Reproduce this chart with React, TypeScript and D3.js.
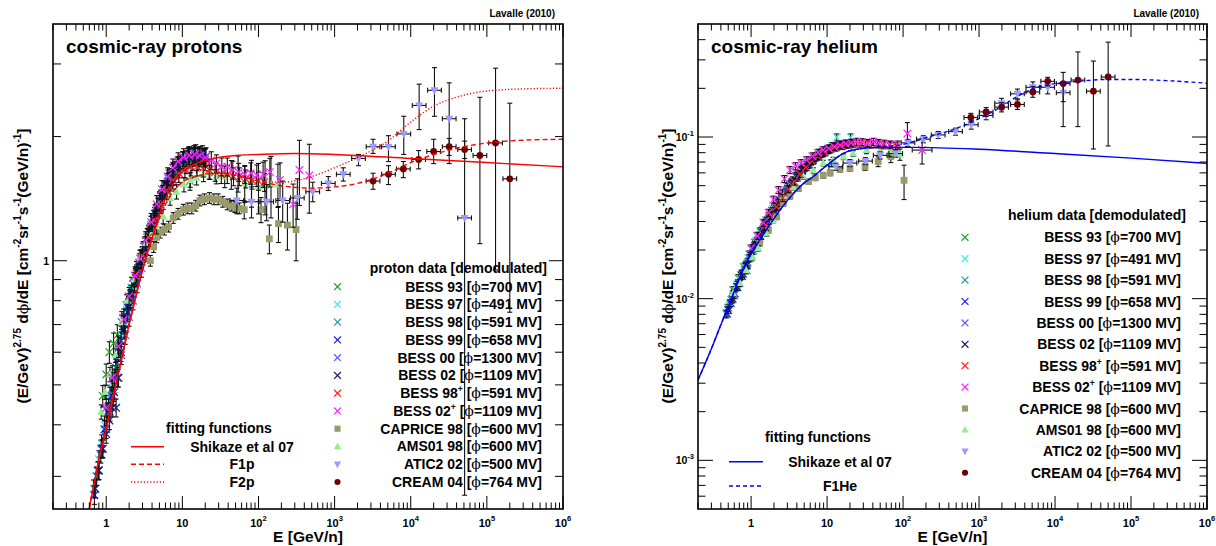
import React from 'react';
import * as d3 from 'd3';

const FONT = "'Liberation Sans', Arial, Helvetica, sans-serif";
const PHI_FONT = "'DejaVu Serif', 'DejaVu Sans', serif";

// ---------------- PROTON fitting functions ----------------
const P_SHIKAZE_E = [0.55, 0.6, 0.7, 0.8, 0.9, 1, 1.2, 1.5, 2, 2.5, 3, 4, 5, 7, 10, 15, 20, 30, 50, 100, 300, 1000, 1e4, 1e5, 1e6];
const P_SHIKAZE_V = [0.22, 0.25, 0.29, 0.33, 0.36, 0.39, 0.46, 0.55, 0.70, 0.83, 0.95, 1.13, 1.30, 1.50, 1.64, 1.72, 1.75, 1.78, 1.80, 1.81, 1.82, 1.81, 1.77, 1.73, 1.69];
const P_F1_E = [0.55, 0.6, 0.7, 0.8, 1, 1.5, 2, 3, 5, 7, 10, 15, 20, 30, 50, 100, 200, 500, 1000, 2000, 5000, 1e4, 2e4, 5e4, 1e5, 3e5, 1e6];
const P_F1_V = [0.22, 0.25, 0.29, 0.33, 0.39, 0.55, 0.70, 0.95, 1.27, 1.44, 1.55, 1.60, 1.62, 1.63, 1.61, 1.56, 1.52, 1.50, 1.51, 1.54, 1.63, 1.73, 1.81, 1.89, 1.93, 1.96, 1.97];
const P_F2_E = [0.55, 0.6, 0.7, 0.8, 1, 1.5, 2, 3, 5, 7, 10, 15, 20, 30, 50, 100, 200, 500, 1000, 2000, 5000, 1e4, 2e4, 5e4, 1e5, 3e5, 1e6];
const P_F2_V = [0.22, 0.25, 0.29, 0.33, 0.39, 0.55, 0.70, 0.95, 1.27, 1.44, 1.55, 1.60, 1.62, 1.63, 1.61, 1.56, 1.55, 1.60, 1.68, 1.78, 1.95, 2.17, 2.37, 2.52, 2.58, 2.61, 2.62];

// ---------------- PROTON data ----------------
const P_B93_E = [0.9, 1.0, 1.1, 1.25, 1.4, 1.6, 1.85, 2.15, 2.5, 3.0, 3.6, 4.3, 5.2, 6.3, 7.6, 9.2, 11.2, 13.6, 16.5, 20];
const P_B93_V = [0.47, 0.53, 0.60, 0.63, 0.66, 0.71, 0.78, 0.86, 0.94, 1.04, 1.15, 1.27, 1.40, 1.52, 1.62, 1.69, 1.73, 1.76, 1.77, 1.76];
const P_B97_E = [0.68, 0.74, 0.8, 0.87, 0.95, 1.03, 1.12, 1.22, 1.33, 1.45, 1.58, 1.72, 1.88, 2.05, 2.23, 2.43, 2.65, 2.9, 3.2, 3.5, 3.9, 4.4, 5.0, 5.7, 6.5, 7.5, 8.7, 10.1, 11.8, 13.8, 16.2, 19];
const P_B97_V = [0.28, 0.30, 0.33, 0.36, 0.40, 0.43, 0.47, 0.51, 0.55, 0.60, 0.66, 0.71, 0.76, 0.81, 0.86, 0.91, 0.96, 1.01, 1.08, 1.14, 1.22, 1.30, 1.40, 1.49, 1.58, 1.65, 1.70, 1.75, 1.78, 1.79, 1.79, 1.78];
const P_B98_E = [0.75, 0.85, 0.95, 1.07, 1.2, 1.35, 1.52, 1.7, 1.92, 2.15, 2.42, 2.72, 3.06, 3.45, 3.9, 4.4, 5.0, 5.8, 6.8, 8.0, 9.5, 11.3, 12.6, 13.5, 16, 19.5];
const P_B98_V = [0.30, 0.34, 0.39, 0.44, 0.49, 0.55, 0.62, 0.70, 0.77, 0.85, 0.92, 0.99, 1.06, 1.14, 1.22, 1.30, 1.39, 1.49, 1.59, 1.66, 1.72, 1.76, 1.56, 1.78, 1.78, 1.77];
const P_B99_E = [0.7, 0.78, 0.86, 0.95, 1.05, 1.16, 1.28, 1.42, 1.57, 1.74, 1.93, 2.14, 2.37, 2.63, 2.92, 3.25, 3.62, 4.05, 4.55, 5.1, 5.8, 6.6, 7.6, 8.8, 10.2, 12, 14.2, 17, 20.5];
const P_B99_V = [0.27, 0.31, 0.35, 0.39, 0.43, 0.47, 0.52, 0.58, 0.64, 0.70, 0.77, 0.83, 0.89, 0.95, 1.01, 1.08, 1.15, 1.23, 1.31, 1.39, 1.48, 1.56, 1.64, 1.70, 1.75, 1.79, 1.81, 1.80, 1.79];
const P_B00_E = [0.8, 0.9, 1.0, 1.12, 1.25, 1.4, 1.58, 1.78, 2.0, 2.25, 2.55, 2.9, 3.3, 3.8, 4.4, 5.1, 6.0, 7.1, 8.5, 10.2, 12.3, 15, 18.5];
const P_B00_V = [0.31, 0.35, 0.39, 0.43, 0.47, 0.52, 0.59, 0.66, 0.73, 0.80, 0.88, 0.96, 1.05, 1.15, 1.26, 1.37, 1.49, 1.59, 1.68, 1.75, 1.80, 1.82, 1.81];
const P_B02_E = [0.72, 0.8, 0.9, 1.0, 1.1, 1.2, 1.27, 1.35, 1.45, 1.56, 1.72, 1.9, 2.1, 2.35, 2.6, 2.9, 3.3, 3.7, 4.2, 4.8, 5.5, 6.4, 7.5, 8.8, 10.4, 12.4, 14.8, 18];
const P_B02_V = [0.28, 0.31, 0.35, 0.38, 0.41, 0.44, 0.48, 0.44, 0.52, 0.60, 0.68, 0.75, 0.81, 0.88, 0.94, 1.01, 1.09, 1.17, 1.26, 1.35, 1.45, 1.55, 1.63, 1.70, 1.75, 1.78, 1.79, 1.78];
const P_B98P_E = [2.5, 3, 3.6, 4.3, 5.2, 6.2, 7.5, 9, 10.8, 13, 15.6, 18.8, 22.5, 27, 32.5, 39, 47, 56, 68, 82, 100, 120];
const P_B98P_V = [0.93, 1.03, 1.14, 1.25, 1.37, 1.48, 1.57, 1.63, 1.67, 1.69, 1.69, 1.68, 1.66, 1.64, 1.62, 1.62, 1.60, 1.60, 1.58, 1.57, 1.56, 1.55];
const P_B02P_E = [1.0, 1.2, 1.45, 1.7, 2.0, 2.4, 2.8, 3.3, 3.9, 4.6, 5.4, 6.4, 7.5, 8.8, 10.4, 12.3, 14.5, 17, 20, 24, 28, 33, 39, 46, 55, 66, 79, 95, 115, 141, 192, 285, 345, 465];
const P_B02P_V = [0.44, 0.52, 0.62, 0.72, 0.82, 0.92, 1.01, 1.12, 1.24, 1.37, 1.49, 1.60, 1.68, 1.74, 1.78, 1.80, 1.81, 1.80, 1.78, 1.75, 1.72, 1.69, 1.69, 1.66, 1.64, 1.62, 1.63, 1.61, 1.62, 1.64, 1.57, 1.37, 1.66, 1.61];
const P_B02P_ERR = [0.07, 0.07, 0.06, 0.06, 0.05, 0.05, 0.05, 0.05, 0.05, 0.05, 0.05, 0.05, 0.05, 0.05, 0.05, 0.05, 0.05, 0.05, 0.05, 0.05, 0.05, 0.05, 0.05, 0.05, 0.05, 0.05, 0.06, 0.06, 0.07, 0.08, 0.10, 0.12, 0.18, 0.19];
const P_CAP_E = [3.8, 4.2, 4.6, 5.1, 5.8, 6.6, 7.6, 8.8, 10.3, 11.8, 13.3, 15, 17, 19.5, 22.7, 26, 29.6, 34, 38.8, 44, 49, 56, 65, 108, 139, 183, 240, 312];
const P_CAP_V = [1.0, 1.08, 1.14, 1.17, 1.19, 1.21, 1.27, 1.30, 1.33, 1.34, 1.34, 1.36, 1.40, 1.41, 1.42, 1.41, 1.41, 1.39, 1.37, 1.36, 1.35, 1.34, 1.33, 1.33, 1.13, 1.23, 1.22, 1.19];
const P_CAP_ERR = [0.03, 0.03, 0.03, 0.03, 0.03, 0.03, 0.03, 0.03, 0.03, 0.03, 0.03, 0.03, 0.03, 0.03, 0.03, 0.03, 0.03, 0.03, 0.03, 0.03, 0.03, 0.03, 0.05, 0.07, 0.08, 0.10, 0.13, 0.16];
const P_AMS_E = [0.86, 0.97, 1.12, 1.32, 1.59, 1.9, 2.3, 2.78, 3.3, 3.9, 4.6, 5.6, 6.9, 8.4, 10.5, 12.7, 15.4, 19, 23, 28, 36, 44, 54, 66, 81, 100, 122, 146, 180];
const P_AMS_V = [0.43, 0.48, 0.53, 0.59, 0.71, 0.80, 0.90, 1.02, 1.10, 1.16, 1.21, 1.28, 1.42, 1.47, 1.53, 1.57, 1.59, 1.62, 1.64, 1.60, 1.60, 1.62, 1.63, 1.54, 1.55, 1.51, 1.52, 1.53, 1.53];
const P_AMS_ERR = [0.04, 0.04, 0.04, 0.04, 0.04, 0.04, 0.04, 0.04, 0.04, 0.04, 0.04, 0.04, 0.04, 0.04, 0.04, 0.04, 0.04, 0.04, 0.04, 0.04, 0.06, 0.08, 0.10, 0.10, 0.13, 0.14, 0.15, 0.17, 0.12];
const P_ATIC_E = [52, 81, 128, 208, 324, 516, 826, 1300, 2060, 3200, 5100, 8100, 12900, 20500, 32000, 51000];
const P_ATIC_V = [1.40, 1.39, 1.39, 1.40, 1.42, 1.47, 1.54, 1.62, 1.77, 1.89, 1.89, 2.03, 2.38, 2.59, 2.21, 1.27];
const P_ATIC_UP = [1.50, 1.51, 1.53, 1.56, 1.58, 1.55, 1.60, 1.68, 1.81, 1.97, 2.01, 2.24, 2.68, 2.94, 2.70, 2.21];
const P_ATIC_DN = [1.30, 1.27, 1.25, 1.24, 1.26, 1.39, 1.48, 1.56, 1.70, 1.82, 1.74, 1.81, 2.08, 2.24, 1.72, 0.27];
const P_CREAM_E = [3200, 5100, 8000, 12700, 20000, 32000, 51000, 81000, 130000, 200000];
const P_CREAM_V = [1.56, 1.62, 1.67, 1.76, 1.84, 1.89, 1.86, 1.80, 1.93, 1.58];
const P_CREAM_UP = [1.63, 1.70, 1.74, 1.85, 1.97, 1.98, 1.95, 2.49, 2.93, 2.41];
const P_CREAM_DN = [1.49, 1.53, 1.59, 1.67, 1.72, 1.80, 1.77, 1.10, 0.95, 0.75];

// ---------------- HELIUM fitting functions ----------------
const H_SHIKAZE_E = [0.2, 0.3, 0.4, 0.5, 0.7, 0.875, 1, 1.3, 1.7, 2.4, 3.5, 5, 6.6, 10, 18, 30, 50, 137, 1000, 1e4, 1e5, 1e6];
const H_SHIKAZE_V = [0.00314, 0.0049, 0.0069, 0.0089, 0.0133, 0.0168, 0.0190, 0.023, 0.028, 0.0353, 0.044, 0.052, 0.057, 0.067, 0.081, 0.085, 0.0863, 0.0863, 0.084, 0.079, 0.074, 0.0687];
const H_F1_E = [0.2, 0.3, 0.4, 0.5, 0.7, 0.875, 1, 1.3, 1.7, 2.4, 3.5, 5, 6.6, 10, 18, 30, 50, 100, 200, 500, 1000, 2000, 3000, 5000, 1e4, 2e4, 5e4, 1e5, 3e5, 1e6];
const H_F1_V = [0.00314, 0.0049, 0.0069, 0.0089, 0.0133, 0.0168, 0.0190, 0.023, 0.028, 0.0353, 0.044, 0.052, 0.057, 0.067, 0.081, 0.085, 0.087, 0.090, 0.099, 0.113, 0.130, 0.155, 0.175, 0.198, 0.214, 0.221, 0.227, 0.227, 0.223, 0.215];

// ---------------- HELIUM data ----------------
const H_B93_E = [0.5, 0.58, 0.68, 0.8, 0.95, 1.12, 1.33, 1.58, 1.88, 2.25, 2.7, 3.25, 3.9, 4.7, 5.7, 6.9, 8.4, 10.2];
const H_B93_V = [0.0088, 0.0113, 0.0134, 0.0157, 0.0188, 0.0222, 0.0262, 0.0305, 0.035, 0.040, 0.045, 0.051, 0.057, 0.063, 0.069, 0.074, 0.079, 0.083];
const H_B97_E = [0.47, 0.52, 0.58, 0.65, 0.73, 0.82, 0.92, 1.04, 1.17, 1.32, 1.5, 1.7, 1.95, 2.25, 2.6, 3.0, 3.5, 4.1, 4.8, 5.7, 6.8, 8.1, 9.7, 11.6, 13.4, 16, 20.4];
const H_B97_V = [0.0080, 0.0092, 0.0106, 0.0122, 0.0140, 0.0158, 0.0178, 0.0202, 0.0228, 0.0256, 0.029, 0.0325, 0.036, 0.040, 0.0445, 0.049, 0.054, 0.059, 0.064, 0.069, 0.074, 0.079, 0.083, 0.088, 0.0995, 0.090, 0.0995];
const H_B98_E = [0.55, 0.65, 0.77, 0.9, 1.06, 1.25, 1.48, 1.75, 2.07, 2.45, 2.9, 3.45, 4.1, 4.9, 5.9, 7.1, 8.6, 10.5, 11.5, 13, 16, 20];
const H_B98_V = [0.0098, 0.0118, 0.0143, 0.0168, 0.0198, 0.0232, 0.0275, 0.032, 0.0365, 0.041, 0.046, 0.052, 0.058, 0.064, 0.070, 0.075, 0.079, 0.083, 0.069, 0.086, 0.088, 0.090];
const H_B99_E = [0.48, 0.54, 0.61, 0.69, 0.78, 0.88, 1.0, 1.13, 1.28, 1.46, 1.67, 1.92, 2.2, 2.55, 2.95, 3.4, 4.0, 4.7, 5.5, 6.5, 7.7, 9.2, 11, 13.2, 16, 19.5];
const H_B99_V = [0.0081, 0.0094, 0.0108, 0.0125, 0.0143, 0.0163, 0.0187, 0.0212, 0.0238, 0.0268, 0.0302, 0.0338, 0.0375, 0.0415, 0.046, 0.051, 0.056, 0.062, 0.067, 0.072, 0.077, 0.081, 0.085, 0.088, 0.090, 0.091];
const H_B00_E = [0.6, 0.7, 0.82, 0.875, 0.96, 1.12, 1.32, 1.55, 1.83, 2.15, 2.55, 3.0, 3.6, 4.3, 5.2, 6.3, 7.6, 9.3, 11.4, 14, 17.5];
const H_B00_V = [0.0105, 0.0125, 0.0150, 0.0150, 0.0178, 0.0208, 0.0245, 0.0285, 0.033, 0.0375, 0.042, 0.047, 0.053, 0.059, 0.065, 0.071, 0.076, 0.081, 0.085, 0.088, 0.090];
const H_B02_E = [0.5, 0.57, 0.66, 0.76, 0.87, 1.0, 1.15, 1.32, 1.52, 1.75, 2.0, 2.3, 2.65, 3.05, 3.5, 4.05, 4.7, 5.5, 6.4, 7.5, 8.8, 10.4, 12.3, 14.6, 17.4, 21];
const H_B02_V = [0.0085, 0.0100, 0.0118, 0.0138, 0.0160, 0.0186, 0.0215, 0.0245, 0.0278, 0.0315, 0.035, 0.039, 0.0432, 0.0478, 0.0525, 0.0575, 0.0625, 0.0675, 0.0722, 0.0765, 0.0805, 0.0842, 0.0872, 0.0895, 0.091, 0.092];
const H_B98P_E = [1.5, 1.8, 2.15, 2.6, 3.1, 3.7, 4.4, 5.3, 6.3, 7.6, 9.1, 10.9, 13, 15.6, 18.7, 22.4, 27, 32, 38.5, 46, 55, 66, 80];
const H_B98P_V = [0.028, 0.0325, 0.037, 0.042, 0.0475, 0.053, 0.059, 0.065, 0.071, 0.076, 0.080, 0.084, 0.087, 0.089, 0.090, 0.091, 0.091, 0.091, 0.090, 0.090, 0.089, 0.089, 0.088];
const H_B02P_E = [1.0, 1.2, 1.45, 1.7, 1.96, 2.3, 2.75, 3.25, 3.85, 4.55, 5.4, 6.4, 7.6, 8.9, 10.5, 12.4, 14.8, 17.5, 20.7, 24.5, 29, 34.5, 40.6, 48, 57, 68, 85, 114, 178];
const H_B02P_V = [0.0205, 0.0245, 0.0295, 0.034, 0.041, 0.047, 0.055, 0.0625, 0.066, 0.069, 0.072, 0.076, 0.080, 0.083, 0.085, 0.087, 0.089, 0.091, 0.092, 0.0935, 0.093, 0.092, 0.0935, 0.092, 0.091, 0.090, 0.090, 0.105, 0.083];
const H_B02P_ERR = [0.05, 0.05, 0.05, 0.05, 0.05, 0.05, 0.05, 0.05, 0.05, 0.05, 0.05, 0.05, 0.05, 0.05, 0.05, 0.05, 0.05, 0.05, 0.05, 0.05, 0.05, 0.05, 0.05, 0.05, 0.05, 0.05, 0.05, 0.17, 0.18];
const H_B02P_XERR = [0, 0, 0, 0, 0, 0, 0, 0, 0, 0, 0, 0, 0, 0, 0, 0, 0, 0, 0, 0, 0, 0, 0, 0, 0, 0, 0, 0, 0.13];
const H_CAP_E = [1.3, 1.69, 2.17, 2.66, 3.25, 4.2, 5.7, 7, 8.9, 11, 14.8, 20, 31.6, 47, 69, 103];
const H_CAP_V = [0.022, 0.0266, 0.0321, 0.039, 0.043, 0.048, 0.053, 0.056, 0.058, 0.060, 0.063, 0.064, 0.0655, 0.0705, 0.0755, 0.054];
const H_CAP_ERR = [0.04, 0.04, 0.04, 0.04, 0.04, 0.04, 0.04, 0.04, 0.04, 0.04, 0.04, 0.04, 0.05, 0.07, 0.08, 0.24];
const H_AMS_E = [0.58, 0.71, 0.86, 1.04, 1.24, 1.6, 1.96, 2.66, 3.6, 4.9, 6.6, 8.9, 12, 16.4, 22, 33, 50, 67, 91];
const H_AMS_V = [0.0108, 0.0125, 0.0150, 0.0180, 0.0205, 0.0253, 0.0307, 0.043, 0.049, 0.057, 0.062, 0.069, 0.072, 0.0755, 0.079, 0.083, 0.083, 0.081, 0.078];
const H_AMS_ERR = [0.04, 0.04, 0.04, 0.04, 0.04, 0.04, 0.04, 0.04, 0.04, 0.04, 0.04, 0.04, 0.04, 0.04, 0.04, 0.05, 0.06, 0.07, 0.08];
const H_ATIC_E = [13, 20, 32, 50, 80, 116, 185, 290, 490, 790, 1240, 1980, 3200, 5100, 8000, 12800];
const H_ATIC_V = [0.0655, 0.069, 0.071, 0.077, 0.079, 0.092, 0.097, 0.103, 0.108, 0.119, 0.136, 0.162, 0.185, 0.203, 0.203, 0.188];
const H_ATIC_ERR = [0.05, 0.05, 0.05, 0.05, 0.05, 0.05, 0.05, 0.05, 0.05, 0.06, 0.06, 0.07, 0.07, 0.08, 0.09, 0.12];
const H_CREAM_E = [780, 1240, 1980, 3200, 5100, 8000, 12800, 20000, 32000, 50000];
const H_CREAM_V = [0.132, 0.143, 0.153, 0.159, 0.19, 0.221, 0.214, 0.225, 0.192, 0.235];
const H_CREAM_UP = [0.140, 0.152, 0.163, 0.170, 0.205, 0.234, 0.251, 0.336, 0.295, 0.386];
const H_CREAM_DN = [0.124, 0.134, 0.143, 0.148, 0.176, 0.207, 0.116, 0.116, 0.0843, 0.088];

// ---------------- legend / labels ----------------
const DATA_LABELS = ['BESS 93', 'BESS 97', 'BESS 98', 'BESS 99', 'BESS 00', 'BESS 02', 'BESS 98', 'BESS 02', 'CAPRICE 98', 'AMS01 98', 'ATIC2 02', 'CREAM 04'];
const DATA_SUPS = ['', '', '', '', '', '', '+', '+', '', '', '', ''];
const DATA_PHI = ['700', '491', '591', '658', '1300', '1109', '591', '1109', '600', '600', '500', '764'];
const DATA_COLORS = ['#22a022', '#33eeee', '#1fa0a0', '#1c1cff', '#5a5aff', '#16166e', '#ff2222', '#ff22ff', '#9a9a6a', '#92ec92', '#9a9aff', '#6e0000'];
const DATA_MARKERS = ['x', 'x', 'x', 'x', 'x', 'x', 'x', 'x', 'sq', 'tu', 'td', 'o'];
const DRAW_ORDER = [0, 1, 2, 3, 4, 5, 8, 9, 6, 7, 10, 11];

const X_LABELS = [
  { v: 1, base: '1', exp: '' }, { v: 10, base: '10', exp: '' }, { v: 100, base: '10', exp: '2' },
  { v: 1e3, base: '10', exp: '3' }, { v: 1e4, base: '10', exp: '4' }, { v: 1e5, base: '10', exp: '5' }, { v: 1e6, base: '10', exp: '6' },
];

type Mk = string;
interface Series { idx: number; E: number[]; V: number[]; err?: number | number[]; up?: number[]; dn?: number[]; xerr?: number | number[]; }
interface Curve { label: string; E: number[]; V: number[]; dash: string; color: string; }

const PROTON_SERIES: Series[] = [
  { idx: 0, E: P_B93_E, V: P_B93_V, err: 0.06 },
  { idx: 1, E: P_B97_E, V: P_B97_V, err: 0.05 },
  { idx: 2, E: P_B98_E, V: P_B98_V, err: 0.05 },
  { idx: 3, E: P_B99_E, V: P_B99_V, err: 0.05 },
  { idx: 4, E: P_B00_E, V: P_B00_V, err: 0.05 },
  { idx: 5, E: P_B02_E, V: P_B02_V, err: 0.05 },
  { idx: 6, E: P_B98P_E, V: P_B98P_V, err: 0.05 },
  { idx: 7, E: P_B02P_E, V: P_B02P_V, err: P_B02P_ERR },
  { idx: 8, E: P_CAP_E, V: P_CAP_V, err: P_CAP_ERR },
  { idx: 9, E: P_AMS_E, V: P_AMS_V, err: P_AMS_ERR },
  { idx: 10, E: P_ATIC_E, V: P_ATIC_V, up: P_ATIC_UP, dn: P_ATIC_DN, xerr: 0.09 },
  { idx: 11, E: P_CREAM_E, V: P_CREAM_V, up: P_CREAM_UP, dn: P_CREAM_DN, xerr: 0.09 },
];
const HELIUM_SERIES: Series[] = [
  { idx: 0, E: H_B93_E, V: H_B93_V, err: 0.05 },
  { idx: 1, E: H_B97_E, V: H_B97_V, err: 0.05 },
  { idx: 2, E: H_B98_E, V: H_B98_V, err: 0.05 },
  { idx: 3, E: H_B99_E, V: H_B99_V, err: 0.05 },
  { idx: 4, E: H_B00_E, V: H_B00_V, err: 0.05 },
  { idx: 5, E: H_B02_E, V: H_B02_V, err: 0.05 },
  { idx: 6, E: H_B98P_E, V: H_B98P_V, err: 0.05 },
  { idx: 7, E: H_B02P_E, V: H_B02P_V, err: H_B02P_ERR, xerr: H_B02P_XERR },
  { idx: 8, E: H_CAP_E, V: H_CAP_V, err: H_CAP_ERR },
  { idx: 9, E: H_AMS_E, V: H_AMS_V, err: H_AMS_ERR },
  { idx: 10, E: H_ATIC_E, V: H_ATIC_V, err: H_ATIC_ERR, xerr: 0.09 },
  { idx: 11, E: H_CREAM_E, V: H_CREAM_V, up: H_CREAM_UP, dn: H_CREAM_DN, xerr: 0.09 },
];
const PROTON_CURVES: Curve[] = [
  { label: 'Shikaze et al 07', E: P_SHIKAZE_E, V: P_SHIKAZE_V, dash: '', color: '#ff0000' },
  { label: 'F1p', E: P_F1_E, V: P_F1_V, dash: '5,3', color: '#ff0000' },
  { label: 'F2p', E: P_F2_E, V: P_F2_V, dash: '1.2,2', color: '#ff0000' },
];
const HELIUM_CURVES: Curve[] = [
  { label: 'Shikaze et al 07', E: H_SHIKAZE_E, V: H_SHIKAZE_V, dash: '', color: '#0000ff' },
  { label: 'F1He', E: H_F1_E, V: H_F1_V, dash: '4,3', color: '#0000ff' },
];

function Marker({ type, x, y, color, s }: { type: Mk; x: number; y: number; color: string; s: number }) {
  if (type === 'x') {
    return (
      <g stroke={color} strokeWidth={1.2}>
        <line x1={x - s} y1={y - s} x2={x + s} y2={y + s} />
        <line x1={x - s} y1={y + s} x2={x + s} y2={y - s} />
      </g>
    );
  }
  if (type === 'sq') return <rect x={x - s} y={y - s} width={2 * s} height={2 * s} fill={color} />;
  if (type === 'tu') return <path d={`M${x},${y - s * 1.1}L${x + s},${y + s * 0.75}L${x - s},${y + s * 0.75}Z`} fill={color} />;
  if (type === 'td') return <path d={`M${x},${y + s * 1.1}L${x + s},${y - s * 0.75}L${x - s},${y - s * 0.75}Z`} fill={color} />;
  return <circle cx={x} cy={y} r={s} fill={color} />;
}

const MARKER_SIZE: Record<string, number> = { x: 3.8, sq: 3.4, tu: 4, td: 4, o: 3.4 };

function pick(a: number | number[] | undefined, i: number, d: number) {
  if (a === undefined) return d;
  return Array.isArray(a) ? a[i] : a;
}

interface PanelCfg {
  id: string; x0: number; x1: number; y0: number; y1: number; yDom: [number, number];
  title: string; header: string; series: Series[]; curves: Curve[];
  yMajor: number[]; yLabels: { v: number; base: string; exp: string }[];
  yMajorLen: number; yMinorLen: number;
  leg: { headerX: number; headerY: number; markerX: number; textX: number; y0: number; dy: number };
  fit: { headerX: number; headerY: number; lx0: number; lx1: number; labelX: number; ys: number[] };
  yTitleX: number;
}

function Panel({ cfg }: { cfg: PanelCfg }) {
  const x = d3.scaleLog().domain([0.2, 1e6]).range([cfg.x0, cfg.x1]);
  const y = d3.scaleLog().domain(cfg.yDom).range([cfg.y1, cfg.y0]);
  const line = d3.line<[number, number]>().x((d) => x(d[0])).y((d) => y(d[1])).curve(d3.curveMonotoneX);

  const xMajor: number[] = [];
  const xMinor: number[] = [];
  for (let e = -1; e <= 6; e++) {
    for (let m = 1; m < 10; m++) {
      const v = m * Math.pow(10, e);
      if (v < 0.2 * 0.999 || v > 1e6 * 1.001) continue;
      if (m === 1) xMajor.push(v); else xMinor.push(v);
    }
  }
  const yAll: number[] = [];
  for (let e = -4; e <= 1; e++) {
    for (let m = 1; m < 10; m++) {
      const v = m * Math.pow(10, e);
      if (v < cfg.yDom[0] * 1.001 || v > cfg.yDom[1] * 0.999) continue;
      yAll.push(v);
    }
  }
  const isMajorY = (v: number) => cfg.yMajor.some((m) => Math.abs(m - v) / m < 1e-6);

  const cap = 2.5;
  const groups: JSX.Element[] = [];
  DRAW_ORDER.forEach((si) => {
    const s = cfg.series.find((q) => q.idx === si);
    if (!s) return;
    const color = DATA_COLORS[s.idx];
    const mk = DATA_MARKERS[s.idx];
    const elems: JSX.Element[] = [];
    s.E.forEach((E, i) => {
      const v = s.V[i];
      const px = x(E);
      const py = y(v);
      let up: number, dn: number;
      if (s.up && s.dn) { up = s.up[i]; dn = s.dn[i]; } else {
        const r = pick(s.err, i, 0.05);
        up = v * (1 + r); dn = v * (1 - r);
      }
      const yu = y(up), yd = y(dn);
      elems.push(
        <g key={`e${i}`} stroke="#111" strokeWidth={1.1}>
          <line x1={px} y1={yu} x2={px} y2={yd} />
          <line x1={px - cap} y1={yu} x2={px + cap} y2={yu} />
          <line x1={px - cap} y1={yd} x2={px + cap} y2={yd} />
        </g>
      );
      const xe = pick(s.xerr, i, 0);
      if (xe > 0) {
        const xl = x(E / Math.pow(10, xe)), xr = x(E * Math.pow(10, xe));
        elems.push(
          <g key={`h${i}`} stroke="#111" strokeWidth={1.1}>
            <line x1={xl} y1={py} x2={xr} y2={py} />
            <line x1={xl} y1={py - cap} x2={xl} y2={py + cap} />
            <line x1={xr} y1={py - cap} x2={xr} y2={py + cap} />
          </g>
        );
      }
    });
    s.E.forEach((E, i) => {
      elems.push(<Marker key={`m${i}`} type={mk} x={x(E)} y={y(s.V[i])} color={color} s={MARKER_SIZE[mk]} />);
    });
    groups.push(<g key={`s${si}`}>{elems}</g>);
  });

  const clipId = `clip-${cfg.id}`;
  const midX = (cfg.x0 + cfg.x1) / 2;
  const midY = 266;

  return (
    <g fontFamily={FONT}>
      <defs>
        <clipPath id={clipId}>
          <rect x={cfg.x0} y={cfg.y0} width={cfg.x1 - cfg.x0} height={cfg.y1 - cfg.y0} />
        </clipPath>
      </defs>
      <g clipPath={`url(#${clipId})`}>
        {groups}
        {cfg.curves.map((c, i) => (
          <path key={i} d={line(c.E.map((e, j) => [e, c.V[j]] as [number, number])) || ''} fill="none" stroke={c.color} strokeWidth={1.4} strokeDasharray={c.dash || undefined} />
        ))}
      </g>
      <rect x={cfg.x0} y={cfg.y0} width={cfg.x1 - cfg.x0} height={cfg.y1 - cfg.y0} fill="none" stroke="#000" strokeWidth={1.6} />
      <g stroke="#000" strokeWidth={1}>
        {xMajor.map((v, i) => (
          <g key={`xM${i}`}>
            <line x1={x(v)} x2={x(v)} y1={cfg.y1} y2={cfg.y1 - 13} />
            <line x1={x(v)} x2={x(v)} y1={cfg.y0} y2={cfg.y0 + 13} />
          </g>
        ))}
        {xMinor.map((v, i) => (
          <g key={`xm${i}`}>
            <line x1={x(v)} x2={x(v)} y1={cfg.y1} y2={cfg.y1 - 6.5} />
            <line x1={x(v)} x2={x(v)} y1={cfg.y0} y2={cfg.y0 + 6.5} />
          </g>
        ))}
        {yAll.map((v, i) => {
          const L = isMajorY(v) ? cfg.yMajorLen : cfg.yMinorLen;
          return (
            <g key={`y${i}`}>
              <line x1={cfg.x0} x2={cfg.x0 + L} y1={y(v)} y2={y(v)} />
              <line x1={cfg.x1} x2={cfg.x1 - L} y1={y(v)} y2={y(v)} />
            </g>
          );
        })}
      </g>
      <g fontWeight="bold" fontSize={11} fill="#000">
        {X_LABELS.map((l, i) => (
          <text key={i} x={x(l.v)} y={527} textAnchor="middle">
            {l.base}
            {l.exp ? <tspan fontSize={7.5} dy={-6}>{l.exp}</tspan> : null}
          </text>
        ))}
      </g>
      <g fontWeight="bold" fontSize={10.5} fill="#000">
        {cfg.yLabels.map((l, i) => (
          <text key={i} x={cfg.x0 - 4} y={y(l.v) + 4} textAnchor="end">
            {l.base}
            {l.exp ? <tspan fontSize={7.5} dy={-5}>{l.exp}</tspan> : null}
          </text>
        ))}
      </g>
      <text x={midX} y={542} textAnchor="middle" fontWeight="bold" fontSize={15.5}>E [GeV/n]</text>
      <text transform={`translate(${cfg.yTitleX},${midY}) rotate(-90)`} textAnchor="middle" fontWeight="bold" fontSize={15.5}>
        <tspan>(E/GeV)</tspan><tspan fontSize={10} dy={-7}>2.75</tspan><tspan dy={7}>{'  d'}</tspan><tspan fontFamily={PHI_FONT} fontWeight="normal">ϕ</tspan><tspan>/dE [cm</tspan><tspan fontSize={10} dy={-7}>-2</tspan><tspan dy={7}>sr</tspan><tspan fontSize={10} dy={-7}>-1</tspan><tspan dy={7}>s</tspan><tspan fontSize={10} dy={-7}>-1</tspan><tspan dy={7}>(GeV/n)</tspan><tspan fontSize={10} dy={-7}>-1</tspan><tspan dy={7}>]</tspan>
      </text>
      <text x={cfg.x0 + 13} y={53} fontWeight="bold" fontSize={19}>{cfg.title}</text>
      <text x={cfg.x1 - 8} y={17} textAnchor="end" fontWeight="bold" fontSize={10}>Lavalle (2010)</text>
      <text x={cfg.leg.headerX} y={cfg.leg.headerY} textAnchor="end" fontWeight="bold" fontSize={14}>{cfg.header}</text>
      {DATA_LABELS.map((lab, i) => {
        const cy = cfg.leg.y0 + i * cfg.leg.dy;
        const mk = DATA_MARKERS[i];
        return (
          <g key={`leg${i}`}>
            <Marker type={mk} x={cfg.leg.markerX} y={cy} color={DATA_COLORS[i]} s={MARKER_SIZE[mk] * 0.9} />
            <text x={cfg.leg.textX} y={cy + 5} textAnchor="end" fontWeight="bold" fontSize={14}>
              {lab}
              {DATA_SUPS[i] ? <tspan fontSize={8.5} dy={-6}>{DATA_SUPS[i]}</tspan> : null}
              <tspan dy={DATA_SUPS[i] ? 6 : 0}>{' ['}</tspan>
              <tspan fontFamily={PHI_FONT} fontWeight="normal">ϕ</tspan>
              <tspan>{`=${DATA_PHI[i]} MV]`}</tspan>
            </text>
          </g>
        );
      })}
      <text x={cfg.fit.headerX} y={cfg.fit.headerY} textAnchor="middle" fontWeight="bold" fontSize={14}>fitting functions</text>
      {cfg.curves.map((c, i) => (
        <g key={`fit${i}`}>
          <line x1={cfg.fit.lx0} x2={cfg.fit.lx1} y1={cfg.fit.ys[i]} y2={cfg.fit.ys[i]} stroke={c.color} strokeWidth={1.4} strokeDasharray={c.dash || undefined} />
          <text x={cfg.fit.labelX} y={cfg.fit.ys[i] + 5} textAnchor="middle" fontWeight="bold" fontSize={14}>{c.label}</text>
        </g>
      ))}
    </g>
  );
}

const LEFT: PanelCfg = {
  id: 'p', x0: 53, x1: 563, y0: 24, y1: 509, yDom: [0.25, 3.75],
  title: 'cosmic-ray protons', header: 'proton data [demodulated]',
  series: PROTON_SERIES, curves: PROTON_CURVES,
  yMajor: [1], yLabels: [{ v: 1, base: '1', exp: '' }], yMajorLen: 14, yMinorLen: 8,
  leg: { headerX: 547, headerY: 273, markerX: 337.5, textX: 542, y0: 286.7, dy: 17.75 },
  fit: { headerX: 219, headerY: 433, lx0: 131, lx1: 164, labelX: 242, ys: [446.7, 464.3, 482] },
  yTitleX: 28,
};
const RIGHT: PanelCfg = {
  id: 'h', x0: 698, x1: 1207, y0: 24, y1: 509, yDom: [5e-4, 0.5],
  title: 'cosmic-ray helium', header: 'helium data [demodulated]',
  series: HELIUM_SERIES, curves: HELIUM_CURVES,
  yMajor: [1e-3, 1e-2, 1e-1], yLabels: [{ v: 0.1, base: '10', exp: '-1' }, { v: 0.01, base: '10', exp: '-2' }, { v: 0.001, base: '10', exp: '-3' }],
  yMajorLen: 15, yMinorLen: 7.5,
  leg: { headerX: 1186, headerY: 220, markerX: 965, textX: 1181, y0: 237.3, dy: 21.4 },
  fit: { headerX: 818, headerY: 441.5, lx0: 729, lx1: 763, labelX: 840, ys: [461.7, 486] },
  yTitleX: 673,
};

export default function App() {
  return (
    <svg width={1216} height={546} viewBox="0 0 1216 546" style={{ position: 'absolute', left: 0, top: 0, background: '#fff' }}>
      <rect x={0} y={0} width={1216} height={546} fill="#fff" />
      <Panel cfg={LEFT} />
      <Panel cfg={RIGHT} />
    </svg>
  );
}
